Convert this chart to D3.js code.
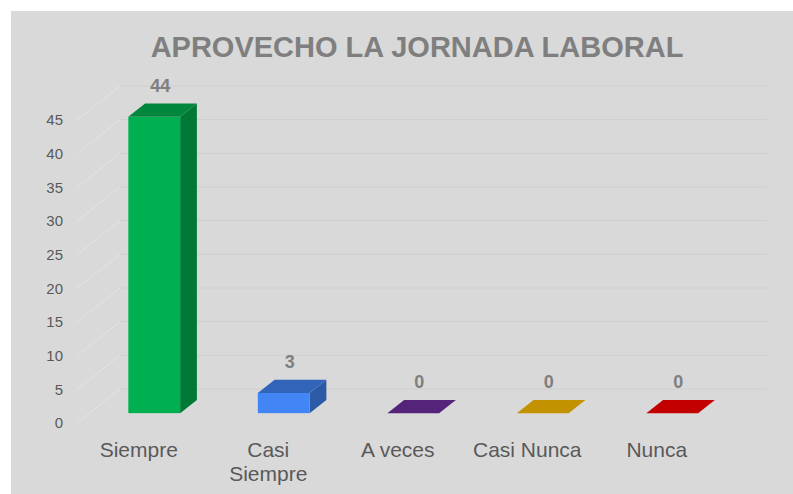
<!DOCTYPE html>
<html>
<head>
<meta charset="utf-8">
<script src="https://cdn.jsdelivr.net/npm/d3@7"></script>
<style>
  body { margin: 0; background: #ffffff; }
  svg { display: block; font-family: Arial, "Liberation Sans", sans-serif; }
</style>
</head>
<body>
<div id="chart"></div>
<script>
// data
var categories = ["Siempre", "Casi Siempre", "A veces", "Casi Nunca", "Nunca"];
var values = [44, 3, 0, 0, 0];
var barColors = ["#00b050", "#4285f4", "#7030a0", "#ffc000", "#ff0000"];
var yTicks = [0, 5, 10, 15, 20, 25, 30, 35, 40, 45];
var title = "APROVECHO LA JORNADA LABORAL";

var width = 793, height = 494;

// oblique depth of the floor (front edge -> back wall)
var depth = {dx: 43, dy: -34};
var barFront = 0.29, barBack = 0.68;

var svg = d3.select("#chart")
  .append("svg")
  .attr("width", width)
  .attr("height", height);

// chart area background
svg.append("rect")
  .attr("x", 11).attr("y", 11)
  .attr("width", width - 11).attr("height", height - 11)
  .attr("fill", "#d9d9d9");

svg.append("text")
  .attr("x", 417).attr("y", 57)
  .attr("text-anchor", "middle")
  .style("font-size", "29px")
  .style("font-weight", "bold")
  .style("fill", "#7f7f7f")
  .text(title);

// scales on the front plane
var x = d3.scaleBand()
  .domain(categories)
  .range([77, 724.5]);

var y = d3.scaleLinear()
  .domain([0, 45])
  .range([423, 120]);

// gridlines: side wall diagonal + back wall horizontal
var grid = svg.append("g");
yTicks.forEach(function(t) {
  grid.append("line")
    .attr("x1", x.range()[0]).attr("y1", y(t))
    .attr("x2", x.range()[0] + depth.dx).attr("y2", y(t) + depth.dy)
    .attr("stroke", "#e3e3e3").attr("stroke-width", 1);
  grid.append("line")
    .attr("x1", x.range()[0] + depth.dx).attr("y1", y(t) + depth.dy)
    .attr("x2", x.range()[1] + depth.dx).attr("y2", y(t) + depth.dy)
    .attr("stroke", "#cfcfcf").attr("stroke-width", 1);
});

// y axis labels
var yAxis = svg.append("g")
  .attr("transform", "translate(63,0)")
  .call(d3.axisLeft(y).tickValues(yTicks).tickSize(0).tickPadding(0));
yAxis.select(".domain").remove();
yAxis.selectAll("text")
  .style("font-size", "15px")
  .style("font-family", "Arial, 'Liberation Sans', sans-serif")
  .attr("fill", "#595959");

// 3D bars
var barW = x.step() * 0.4;
var fx = depth.dx * barFront, fy = depth.dy * barFront;
var bx = depth.dx * (barBack - barFront), by = depth.dy * (barBack - barFront);

function pts(a) { return a.map(function(p) { return p.join(","); }).join(" "); }

var bars = svg.selectAll(".bar")
  .data(categories.map(function(c, i) { return {cat: c, v: values[i], col: barColors[i]}; }))
  .enter().append("g").attr("class", "bar");

bars.each(function(d) {
  var g = d3.select(this);
  var cx = x(d.cat) + x.bandwidth() / 2 + fx;
  var x0 = cx - barW / 2, x1 = cx + barW / 2;
  var yb = y(0) + fy, yt = y(d.v) + fy;
  var base = d3.rgb(d.col);
  var top = d3.rgb(base.r * 0.76, base.g * 0.76, base.b * 0.76);
  var side = d3.rgb(base.r * 0.68, base.g * 0.68, base.b * 0.68);
  if (d.v > 0) {
    g.append("polygon")
      .attr("points", pts([[x1, yb], [x1 + bx, yb + by], [x1 + bx, yt + by], [x1, yt]]))
      .attr("fill", side);
    g.append("rect")
      .attr("x", x0).attr("y", yt)
      .attr("width", barW).attr("height", yb - yt)
      .attr("fill", base);
  }
  g.append("polygon")
    .attr("points", pts([[x0, yt], [x1, yt], [x1 + bx, yt + by], [x0 + bx, yt + by]]))
    .attr("fill", top);
  g.append("text")
    .attr("x", cx + 6)
    .attr("y", yt + by - 12)
    .attr("text-anchor", "middle")
    .style("font-size", "18px")
    .style("font-weight", "bold")
    .style("fill", "#7f7f7f")
    .text(d.v);
});

// category labels (wrapped like the original)
var catG = svg.append("g");
categories.forEach(function(c) {
  var lines = c === "Casi Siempre" ? ["Casi", "Siempre"] : [c];
  var t = catG.append("text")
    .attr("x", x(c) + x.bandwidth() / 2 - 3)
    .attr("y", 457)
    .attr("text-anchor", "middle")
    .style("font-size", "21px")
    .style("fill", "#595959");
  lines.forEach(function(l, i) {
    t.append("tspan")
      .attr("x", x(c) + x.bandwidth() / 2 - 3)
      .attr("dy", i === 0 ? 0 : 24)
      .text(l);
  });
});
</script>
</body>
</html>
